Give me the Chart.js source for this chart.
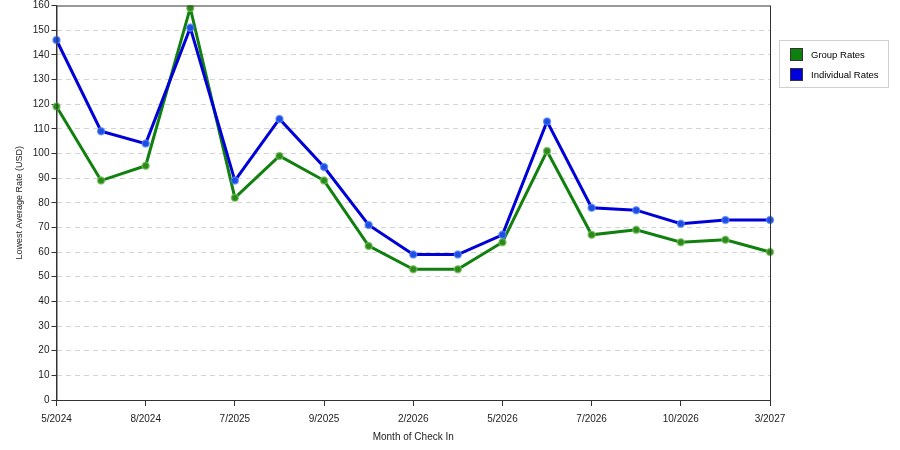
<!DOCTYPE html>
<html>
<head>
<meta charset="utf-8">
<title>Lowest Average Rate</title>
<script src="https://cdn.jsdelivr.net/npm/chart.js@4"></script>
<style>
  body { margin: 0; background: #fff; }
  #wrap { position: relative; width: 900px; height: 450px; }
  #legend {
    position: absolute; left: 779px; top: 40px; width: 108px; height: 46px;
    border: 1px solid #d0d0d0; font: 9.5px "Liberation Sans", Arial, sans-serif; color: #000;
  }
  #legend div { position: absolute; left: 10px; height: 13px; line-height: 13px; }
  #legend span.sw {
    display: inline-block; width: 11px; height: 11px; vertical-align: top;
    margin-right: 8px; border: 1px solid #333;
  }
</style>
</head>
<body>
<div id="wrap">
  <canvas id="rateChart" width="900" height="450"></canvas>
  <div id="legend">
    <div style="top:7px"><span class="sw" style="background:#0e800e"></span>Group Rates</div>
    <div style="top:27px"><span class="sw" style="background:#0000dd"></span>Individual Rates</div>
  </div>
</div>
<script>
// --- Data ---
const months = ["5/2024", "6/2024", "8/2024", "12/2024", "7/2025", "8/2025", "9/2025", "11/2025",
  "2/2026", "3/2026", "5/2026", "6/2026", "7/2026", "8/2026", "10/2026", "12/2026", "3/2027"];
const groupRates = [119, 89, 95, 159, 82, 99, 89, 62.5, 53, 53, 64, 101, 67, 69, 64, 65, 60];
const individualRates = [146, 109, 104, 151, 89, 114, 94.5, 71, 59, 59, 67, 113, 78, 77, 71.5, 73, 73];
const yTicks = [0, 10, 20, 30, 40, 50, 60, 70, 80, 90, 100, 110, 120, 130, 140, 150, 160];

const font = { family: "'Liberation Sans', Arial, sans-serif", size: 10 };

// frame around the plot (top + right edges)
const frame = {
  id: "frame",
  afterDraw(chart) {
    const a = chart.chartArea, c = chart.ctx;
    c.save();
    c.strokeStyle = "#333";
    c.lineWidth = 1;
    c.strokeRect(a.left + 0.5, a.top + 0.5, a.right - a.left, a.bottom - a.top);
    c.restore();
  }
};

const ctx = document.getElementById("rateChart").getContext("2d");
new Chart(ctx, {
  type: "line",
  data: {
    labels: months,
    datasets: [{
      label: "Individual Rates",
      data: individualRates,
      borderColor: "#0000d8",
      borderWidth: 3,
      pointRadius: 3.5,
      pointBackgroundColor: "#1a4fe0",
      pointBorderColor: "rgba(90,130,255,0.7)",
      pointBorderWidth: 1.5,
      tension: 0
    }, {
      label: "Group Rates",
      data: groupRates,
      borderColor: "#11800f",
      borderWidth: 3,
      pointRadius: 3.5,
      pointBackgroundColor: "#2a8a1a",
      pointBorderColor: "rgba(120,190,90,0.7)",
      pointBorderWidth: 1.5,
      tension: 0
    }]
  },
  options: {
    responsive: false,
    animation: false,
    layout: { padding: { top: 4, right: 130, left: 10, bottom: 2 } },
    plugins: {
      legend: { display: false },
      tooltip: { enabled: false }
    },
    scales: {
      x: {
        offset: false,
        afterFit(scale) { scale.height = 48; },
        border: { color: "#333", width: 1 },
        grid: { drawOnChartArea: false, tickLength: 6, color: "#333" },
        ticks: { color: "#222", font: font, autoSkip: true, maxTicksLimit: 9, maxRotation: 0, padding: 7 },
        title: { display: true, text: "Month of Check In", color: "#222", font: font, padding: { top: 4, bottom: 5 } }
      },
      y: {
        min: 0,
        max: 160,
        afterBuildTicks(scale) { scale.ticks = yTicks.map(v => ({ value: v })); },
        afterFit(scale) { scale.paddingTop = 0; scale.paddingBottom = 0; },
        border: { color: "#333", width: 1, dash: [5, 4] },
        grid: {
          color: ctx => (ctx.tick.value === 0 || ctx.tick.value === 160) ? "rgba(0,0,0,0)" : "#d4d4d4",
          tickColor: "#333",
          tickBorderDash: [],
          tickLength: 5
        },
        ticks: { color: "#222", font: font, padding: 2 },
        title: { display: true, text: "Lowest Average Rate (USD)", color: "#222",
          font: { family: font.family, size: 9 }, padding: { bottom: 6 } }
      }
    }
  },
  plugins: [frame]
});
</script>
</body>
</html>
